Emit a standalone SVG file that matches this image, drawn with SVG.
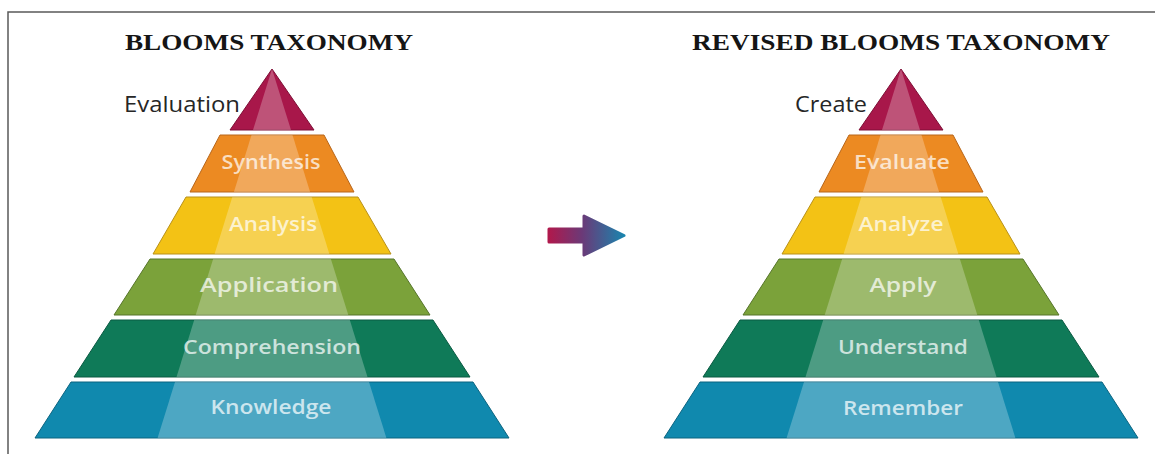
<svg xmlns="http://www.w3.org/2000/svg" width="1155" height="454" viewBox="0 0 1155 454">
  <defs>
    <linearGradient id="arrowGrad" x1="547" y1="0" x2="626" y2="0" gradientUnits="userSpaceOnUse">
      <stop offset="0" stop-color="#B3174A"/>
      <stop offset="0.45" stop-color="#6A3A78"/>
      <stop offset="1" stop-color="#1688B0"/>
    </linearGradient>
  </defs>
  <style>
    .title { font-family: "Liberation Serif", "Times New Roman", serif; font-weight: bold; font-size: 23px; fill: #151515; }
    .lbl { font-family: "Open Sans", "DejaVu Sans", sans-serif; font-weight: 600; font-size: 19px; fill: #ffffff; fill-opacity: 0.72; text-anchor: middle; }
    .side { font-family: "Open Sans", "DejaVu Sans", sans-serif; font-weight: 500; font-size: 21px; fill: #262626; text-anchor: end; }
    .stripe { fill: #ffffff; fill-opacity: 0.26; }
    .l1 { fill: #A8174A; stroke: #7E0F36; stroke-width: 1; }
    .l2 { fill: #EC8A22; stroke: #B8661A; stroke-width: 1; }
    .l3 { fill: #F3C215; stroke: #B8911A; stroke-width: 1; }
    .l4 { fill: #7BA23A; stroke: #56752A; stroke-width: 1; }
    .l5 { fill: #0F7A58; stroke: #0A5A42; stroke-width: 1; }
    .l6 { fill: #1089AE; stroke: #0B6480; stroke-width: 1; }
    .frame { fill: none; stroke: #5a5a5a; stroke-width: 1.5; }
  </style>

  <rect width="1155" height="454" fill="#ffffff"/>
  <path class="frame" d="M8,455 L8,12 L1156,12"/>

  <text class="title" x="125" y="50" textLength="288" lengthAdjust="spacingAndGlyphs">BLOOMS TAXONOMY</text>
  <text class="title" x="692" y="50" textLength="418" lengthAdjust="spacingAndGlyphs">REVISED BLOOMS TAXONOMY</text>

  <g id="pyramid-blooms">
    <g id="evaluation">
      <polygon class="l1" points="272,69 230,130 314,130"/>
      <polygon class="stripe" points="272,69 253,130 291,130"/>
      <text class="side" x="240" y="112" textLength="116" lengthAdjust="spacingAndGlyphs">Evaluation</text>
    </g>
    <g id="synthesis">
      <polygon class="l2" points="220,135 324,135 354,192 190,192"/>
      <polygon class="stripe" points="251.5,135 292.5,135 310.1,192 233.9,192"/>
      <text class="lbl" x="271" y="169" textLength="99" lengthAdjust="spacingAndGlyphs">Synthesis</text>
    </g>
    <g id="analysis">
      <polygon class="l3" points="186,197 358,197 391,254 153,254"/>
      <polygon class="stripe" points="232.3,197 311.7,197 329.4,254 214.6,254"/>
      <text class="lbl" x="273" y="231" textLength="88" lengthAdjust="spacingAndGlyphs">Analysis</text>
    </g>
    <g id="application">
      <polygon class="l4" points="150,259 394,259 430,315 114,315"/>
      <polygon class="stripe" points="213.1,259 330.9,259 348.3,315 195.7,315"/>
      <text class="lbl" x="269" y="292" textLength="138" lengthAdjust="spacingAndGlyphs">Application</text>
    </g>
    <g id="comprehension">
      <polygon class="l5" points="111,320 433,320 470,377 74,377"/>
      <polygon class="stripe" points="194.2,320 349.8,320 367.5,377 176.5,377"/>
      <text class="lbl" x="272" y="354" textLength="178" lengthAdjust="spacingAndGlyphs">Comprehension</text>
    </g>
    <g id="knowledge">
      <polygon class="l6" points="71,382 473,382 509,438 35,438"/>
      <polygon class="stripe" points="175,382 369,382 386.4,438 157.6,438"/>
      <text class="lbl" x="271" y="414" textLength="121" lengthAdjust="spacingAndGlyphs">Knowledge</text>
    </g>
  </g>

  <g id="pyramid-revised" transform="translate(629,0)">
    <g id="create">
      <polygon class="l1" points="272,69 230,130 314,130"/>
      <polygon class="stripe" points="272,69 253,130 291,130"/>
      <text class="side" x="238" y="112" textLength="72" lengthAdjust="spacingAndGlyphs">Create</text>
    </g>
    <g id="evaluate">
      <polygon class="l2" points="220,135 324,135 354,192 190,192"/>
      <polygon class="stripe" points="251.5,135 292.5,135 310.1,192 233.9,192"/>
      <text class="lbl" x="273" y="169" textLength="96" lengthAdjust="spacingAndGlyphs">Evaluate</text>
    </g>
    <g id="analyze">
      <polygon class="l3" points="186,197 358,197 391,254 153,254"/>
      <polygon class="stripe" points="232.3,197 311.7,197 329.4,254 214.6,254"/>
      <text class="lbl" x="272" y="231" textLength="85" lengthAdjust="spacingAndGlyphs">Analyze</text>
    </g>
    <g id="apply">
      <polygon class="l4" points="150,259 394,259 430,315 114,315"/>
      <polygon class="stripe" points="213.1,259 330.9,259 348.3,315 195.7,315"/>
      <text class="lbl" x="274" y="292" textLength="67" lengthAdjust="spacingAndGlyphs">Apply</text>
    </g>
    <g id="understand">
      <polygon class="l5" points="111,320 433,320 470,377 74,377"/>
      <polygon class="stripe" points="194.2,320 349.8,320 367.5,377 176.5,377"/>
      <text class="lbl" x="274" y="354" textLength="130" lengthAdjust="spacingAndGlyphs">Understand</text>
    </g>
    <g id="remember">
      <polygon class="l6" points="71,382 473,382 509,438 35,438"/>
      <polygon class="stripe" points="175,382 369,382 386.4,438 157.6,438"/>
      <text class="lbl" x="274" y="415" textLength="120" lengthAdjust="spacingAndGlyphs">Remember</text>
    </g>
  </g>

  <g id="connectors">
    <path d="M549,229 L584,229 L584,216 L624,235.5 L584,255 L584,242 L549,242 Z" fill="url(#arrowGrad)" stroke="url(#arrowGrad)" stroke-width="3" stroke-linejoin="round"/>
  </g>
</svg>
